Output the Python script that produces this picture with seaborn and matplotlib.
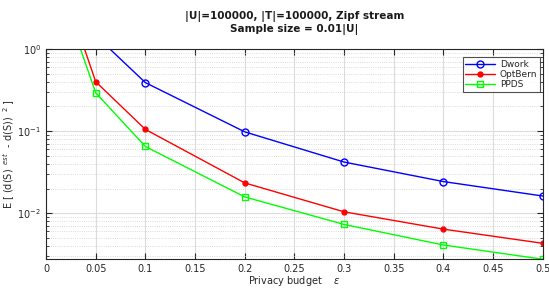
import numpy as np
import pandas as pd
import seaborn as sns
from matplotlib import pyplot as plt
from matplotlib.ticker import FuncFormatter, LogLocator, MultipleLocator, NullFormatter

eps = [0.01, 0.05, 0.1, 0.2, 0.3, 0.4, 0.5]
dwork = [8.0, 1.46, 0.39, 0.098, 0.042, 0.0243, 0.0162]
optbern = [10.5, 0.40, 0.105, 0.0234, 0.0104, 0.0064, 0.0043]
ppds = [7.3, 0.293, 0.065, 0.0158, 0.0073, 0.0041, 0.00275]

series = {"Dwork": dwork, "OptBern": optbern, "PPDS": ppds}
styles = {
    "Dwork": dict(color=(0, 0, 1), marker="o", mfc="none", ms=5),
    "OptBern": dict(color=(1, 0, 0), marker="o", mfc=(1, 0, 0), ms=3.5),
    "PPDS": dict(color=(0, 1, 0), marker="s", mfc="none", ms=4.5),
}

sns.set_style("ticks")
plt.rcParams["font.family"] = ["DejaVu Sans"]

fig = plt.figure(figsize=(5.49, 2.88), dpi=100)
ax = fig.add_axes([0.0838, 0.1007, 0.905, 0.729])

for name, vals in series.items():
    df = pd.DataFrame({"eps": eps, "err": vals})
    st = styles[name]
    sns.lineplot(data=df, x="eps", y="err", ax=ax, color=st["color"], lw=1.0,
                 marker=st["marker"], markersize=st["ms"], markerfacecolor=st["mfc"],
                 markeredgecolor=st["color"], markeredgewidth=1.0, label=name)

ax.set_yscale("log")
ax.set_xlim(0, 0.5)
ax.set_ylim(0.00277, 1.0)
ax.xaxis.set_major_locator(MultipleLocator(0.05))
ax.xaxis.set_major_formatter(FuncFormatter(lambda v, p: f"{v:g}" if abs(v) > 1e-9 else "0"))
ax.yaxis.set_major_locator(LogLocator(base=10, numticks=10))
ax.yaxis.set_minor_locator(LogLocator(base=10, subs=np.arange(2, 10), numticks=10))
ax.yaxis.set_minor_formatter(NullFormatter())

ax.grid(True, which="major", color="#dcdcdc", lw=0.8, ls="-")
ax.grid(True, which="minor", axis="y", color="#cfcfcf", lw=0.6, ls=":")
ax.set_axisbelow(True)
ax.tick_params(which="both", direction="in", top=True, right=True, labelsize=7,
               labelcolor="#262626", color="#262626")
ax.tick_params(which="major", length=4)
ax.tick_params(which="minor", length=2)
for sp in ax.spines.values():
    sp.set_color("#262626")
    sp.set_linewidth(0.8)

ax.set_xlabel("Privacy budget    $\\epsilon$", fontsize=7, color="#262626", labelpad=0)
ax.set_ylabel("E [ (d(S)$^{\\ \\ est}$  - d(S)) $^{\\ 2}$ ]", fontsize=7, color="#262626", labelpad=0)
ax.set_title("|U|=100000, |T|=100000, Zipf stream\nSample size = 0.01|U|",
             fontsize=7.5, fontweight="bold", color="#1a1a1a", pad=12, linespacing=1.25)

leg = ax.legend(loc="upper right", fontsize=6.5, frameon=True, fancybox=False,
                edgecolor="#262626", handlelength=3.3, borderpad=0.3, handletextpad=0.5,
                labelspacing=0.15, borderaxespad=0, bbox_to_anchor=(0.994, 0.962))
leg.get_frame().set_linewidth(0.8)

fig.savefig("out.png", dpi=100)
